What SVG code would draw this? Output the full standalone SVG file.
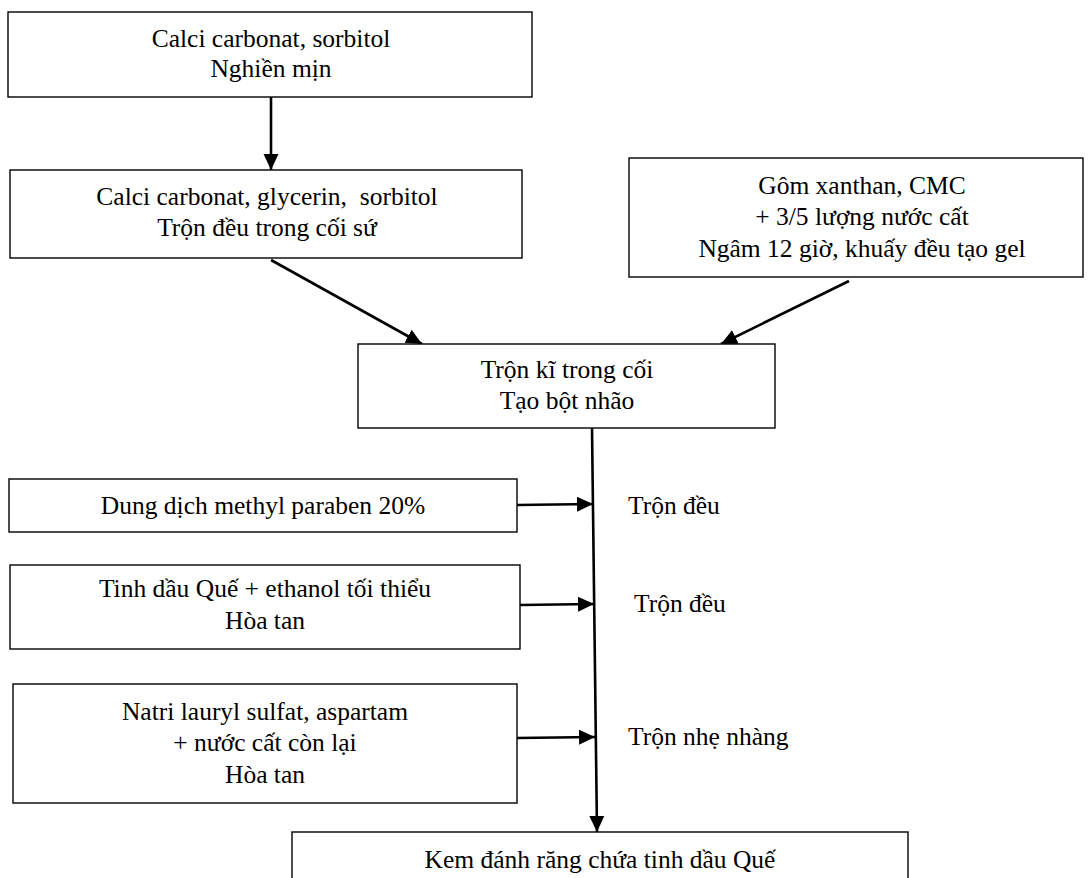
<svg xmlns="http://www.w3.org/2000/svg" width="1090" height="878" viewBox="0 0 1090 878" font-family="'Liberation Serif', 'Times New Roman', Times, serif">
  <style>
    .box { fill: #ffffff; stroke: #000000; stroke-width: 1.4; }
    text { font-family: 'Liberation Serif', 'Times New Roman', Times, serif; font-size: 25.5px; fill: #000000; }
    .t { text-anchor: middle; }
    .tl { text-anchor: start; }
    .conn { stroke: #000000; stroke-width: 2.6; fill: none; marker-end: url(#arrow); }
  </style>
  <defs>
    <marker id="arrow" markerUnits="userSpaceOnUse" markerWidth="17" markerHeight="17" refX="16" refY="8.5" orient="auto">
      <path d="M0,1 L16,8.5 L0,16 z" fill="#000000"/>
    </marker>
  </defs>
  <rect width="1090" height="878" fill="#ffffff"/>

  <g id="connectors">
    <line class="conn" x1="271" y1="97" x2="271" y2="170"/>
    <line class="conn" x1="271" y1="260" x2="422" y2="344"/>
    <line class="conn" x1="849" y1="281" x2="721" y2="344"/>
    <line class="conn" x1="592" y1="428" x2="597" y2="832"/>
    <line class="conn" x1="517" y1="505" x2="593" y2="504"/>
    <line class="conn" x1="520" y1="605" x2="594" y2="604"/>
    <line class="conn" x1="517" y1="738" x2="595" y2="737"/>
  </g>

  <g id="node-calci-sorbitol">
    <rect class="box" x="8" y="12" width="524" height="85"/>
    <text class="t" x="271" y="47">Calci carbonat, sorbitol</text>
    <text class="t" x="271" y="77">Nghiền mịn</text>
  </g>

  <g id="node-calci-glycerin">
    <rect class="box" x="10" y="170" width="512" height="88"/>
    <text class="t" x="267" y="205" xml:space="preserve">Calci carbonat, glycerin,  sorbitol</text>
    <text class="t" x="267" y="236">Trộn đều trong cối sứ</text>
  </g>

  <g id="node-gom-xanthan">
    <rect class="box" x="629" y="158" width="454" height="119"/>
    <text class="t" x="862" y="194">Gôm xanthan, CMC</text>
    <text class="t" x="862" y="225">+ 3/5 lượng nước cất</text>
    <text class="t" x="862" y="257">Ngâm 12 giờ, khuấy đều tạo gel</text>
  </g>

  <g id="node-tron-ki">
    <rect class="box" x="358" y="344" width="417" height="84"/>
    <text class="t" x="567" y="378">Trộn kĩ trong cối</text>
    <text class="t" x="567" y="409">Tạo bột nhão</text>
  </g>

  <g id="node-methyl-paraben">
    <rect class="box" x="9" y="479" width="508" height="53"/>
    <text class="t" x="263" y="514">Dung dịch methyl paraben 20%</text>
  </g>
  <text class="tl" x="628" y="514">Trộn đều</text>

  <g id="node-tinh-dau">
    <rect class="box" x="10" y="565" width="510" height="84"/>
    <text class="t" x="265" y="597">Tinh dầu Quế + ethanol tối thiểu</text>
    <text class="t" x="265" y="629">Hòa tan</text>
  </g>
  <text class="tl" x="634" y="612">Trộn đều</text>

  <g id="node-natri">
    <rect class="box" x="13" y="684" width="504" height="119"/>
    <text class="t" x="265" y="720">Natri lauryl sulfat, aspartam</text>
    <text class="t" x="265" y="751">+ nước cất còn lại</text>
    <text class="t" x="265" y="783">Hòa tan</text>
  </g>
  <text class="tl" x="628" y="745">Trộn nhẹ nhàng</text>

  <g id="node-kem">
    <rect class="box" x="292" y="832" width="616" height="60"/>
    <text class="t" x="600" y="868">Kem đánh răng chứa tinh dầu Quế</text>
  </g>
</svg>
